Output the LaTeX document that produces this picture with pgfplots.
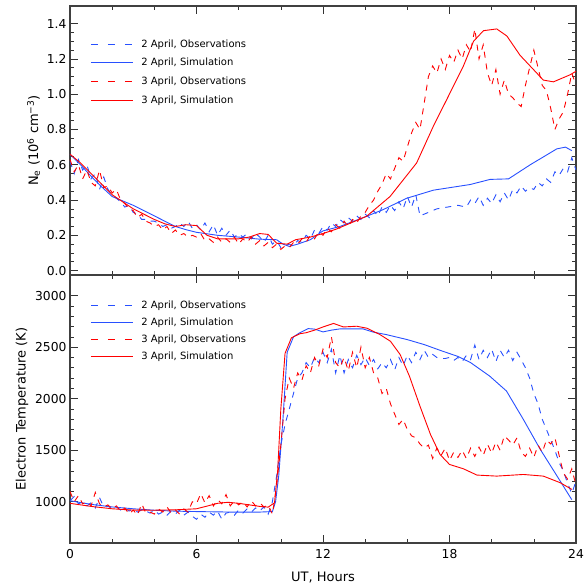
\documentclass[border=0pt]{standalone}
\usepackage{pgfplots}
\pgfplotsset{compat=1.18}
\usepackage{fontspec}
\setmainfont{DejaVu Sans}
\definecolor{obsblue}{RGB}{40,80,255}
\definecolor{obsred}{RGB}{255,0,0}

\tikzset{
  obsline/.style={line width=0.9pt, dash pattern=on 6pt off 6pt},
  simline/.style={line width=0.9pt},
}
\pgfplotsset{
  panel/.style={
    scale only axis, width=506pt, xmin=0, xmax=24,
    xtick={0,6,12,18,24}, minor x tick num=2,
    tick align=inside, major tick length=8pt, minor tick length=4pt,
    axis line style={line width=1.1pt, black!75},
    every tick/.style={black!80, line width=0.6pt},
    tick label style={font=\fontsize{12.3}{14}\selectfont},
    xticklabel style={yshift=-3pt},
    label style={font=\fontsize{13}{15}\selectfont},
    /pgf/number format/assume math mode=true,
    /pgf/number format/1000 sep={},
    legend cell align=left,
    legend style={draw=none, fill=none, inner sep=0pt, row sep=5.5pt,
      font=\fontsize{10}{12}\selectfont,
      /tikz/every odd column/.append style={column sep=6pt}},
  },
  blueobsleg/.style={legend image code/.code={\draw[obsblue, line width=0.9pt, solid]
      (0pt,0pt) -- (7pt,0pt) (17pt,0pt) -- (24pt,0pt) (34pt,0pt) -- (41pt,0pt);}},
  redobsleg/.style={legend image code/.code={\draw[obsred, line width=0.9pt, solid]
      (0pt,0pt) -- (7pt,0pt) (17pt,0pt) -- (24pt,0pt) (34pt,0pt) -- (41pt,0pt);}},
}

\begin{document}
\begin{tikzpicture}
\begin{axis}[panel, name=top, at={(0,0)}, anchor=south west, height=269pt,
  ymin=-0.025, ymax=1.5, ytick={0,0.2,...,1.4}, minor y tick num=3,
  yticklabel style={/pgf/number format/fixed, /pgf/number format/fixed zerofill, /pgf/number format/precision=1},
  xticklabels={},
  ylabel={N\textsubscript{e} (10\textsuperscript{6} cm\textsuperscript{−3})},
  legend image code/.code={\draw[#1] (0pt,0pt) -- (42pt,0pt);},
  legend style={at={(axis description cs:0.04,0.883)}, anchor=north west},
]
\addplot[obsline, obsblue, blueobsleg] coordinates {
(0.0,0.62) (0.2,0.55) (0.4,0.63) (0.6,0.57) (0.8,0.60) (1.0,0.52) (1.2,0.55) (1.4,0.46)
(1.6,0.53) (1.8,0.46) (2.0,0.43) (2.2,0.41) (2.4,0.39) (2.6,0.36) (2.8,0.37) (3.0,0.33)
(3.2,0.32) (3.4,0.29) (3.6,0.29) (3.8,0.28) (4.0,0.28) (4.2,0.27) (4.4,0.25) (4.6,0.26)
(4.8,0.24) (5.0,0.25) (5.2,0.27) (5.4,0.25) (5.6,0.28) (5.8,0.24) (6.0,0.26) (6.2,0.23)
(6.4,0.27) (6.6,0.22) (6.8,0.26) (7.0,0.20) (7.2,0.24) (7.4,0.20) (7.6,0.23) (7.8,0.19)
(8.0,0.21) (8.2,0.19) (8.4,0.21) (8.6,0.18) (8.8,0.21) (9.0,0.19) (9.2,0.16) (9.4,0.20)
(9.6,0.15) (9.8,0.17) (10.0,0.13) (10.2,0.14) (10.4,0.15) (10.6,0.14) (10.8,0.17) (11.0,0.16)
(11.2,0.20) (11.4,0.18) (11.6,0.23) (11.8,0.21) (12.0,0.25) (12.2,0.23) (12.4,0.27) (12.6,0.25)
(12.8,0.29) (13.0,0.27) (13.2,0.30) (13.4,0.28) (13.6,0.31) (13.8,0.29) (14.0,0.32) (14.2,0.30)
(14.4,0.34) (14.6,0.31) (14.8,0.36) (15.0,0.33) (15.2,0.37) (15.4,0.34) (15.6,0.39) (15.8,0.35)
(16.0,0.42) (16.2,0.36) (16.4,0.43) (16.6,0.31) (17.4,0.35) (18.4,0.37) (18.8,0.36) (19.0,0.40)
(19.2,0.38) (19.4,0.42) (19.6,0.37) (19.8,0.41) (20.0,0.38) (20.2,0.43) (20.4,0.39) (20.6,0.44)
(20.8,0.40) (21.0,0.46) (21.2,0.44) (21.4,0.48) (21.6,0.45) (21.8,0.47) (22.0,0.46) (22.2,0.50)
(22.4,0.48) (22.6,0.52) (22.8,0.50) (23.0,0.56) (23.2,0.54) (23.4,0.58) (23.6,0.56) (23.8,0.64)
(24.0,0.57)
};
\addlegendentry{2 April, Observations}
\addplot[simline, obsblue] coordinates {
(0,0.66) (0.5,0.60) (1,0.535) (1.5,0.475) (2,0.42) (2.5,0.395) (3,0.37) (3.5,0.34) (4,0.31)
(4.5,0.28) (5,0.25) (5.5,0.232) (6,0.217) (7,0.20) (8,0.19) (9,0.178) (9.8,0.175) (10.1,0.15)
(10.4,0.137) (10.8,0.15) (11.4,0.175) (12.0,0.225) (12.8,0.25) (14.07,0.308) (14.86,0.346)
(15.97,0.41) (17.24,0.456) (18.98,0.488) (19.93,0.517) (20.8,0.52) (21.83,0.60) (23.09,0.69)
(23.5,0.70) (23.8,0.68)
};
\addlegendentry{2 April, Simulation}
\addplot[obsline, obsred, redobsleg] coordinates {
(0.0,0.63) (0.2,0.56) (0.4,0.60) (0.6,0.52) (0.8,0.57) (1.0,0.50) (1.2,0.48) (1.4,0.57)
(1.6,0.47) (1.8,0.48) (2.0,0.44) (2.2,0.46) (2.4,0.40) (2.6,0.38) (2.8,0.35) (3.0,0.34)
(3.2,0.30) (3.4,0.32) (3.6,0.28) (3.8,0.27) (4.0,0.25) (4.2,0.26) (4.4,0.23) (4.6,0.25)
(4.8,0.21) (5.0,0.23) (5.2,0.20) (5.4,0.21) (5.6,0.19) (5.8,0.20) (6.0,0.19) (6.2,0.21)
(6.4,0.17) (6.6,0.18) (6.8,0.16) (7.0,0.19) (7.2,0.16) (7.4,0.18) (7.6,0.16) (7.8,0.19)
(8.0,0.15) (8.2,0.18) (8.4,0.16) (8.6,0.19) (8.8,0.15) (9.0,0.17) (9.2,0.14) (9.4,0.16)
(9.6,0.13) (9.8,0.15) (10.0,0.12) (10.2,0.14) (10.4,0.13) (10.6,0.16) (10.8,0.15) (11.0,0.18)
(11.2,0.16) (11.4,0.20) (11.6,0.18) (11.8,0.22) (12.0,0.20) (12.2,0.24) (12.4,0.22) (12.6,0.26)
(12.8,0.24) (13.0,0.28) (13.2,0.25) (13.4,0.29) (13.6,0.27) (13.8,0.31) (14.0,0.33) (14.2,0.37)
(14.4,0.40) (14.6,0.45) (14.8,0.49) (15.0,0.55) (15.2,0.52) (15.4,0.58) (15.6,0.64) (15.8,0.62)
(16.0,0.70) (16.2,0.78) (16.4,0.84) (16.6,0.80) (16.8,0.95) (17.0,1.10) (17.2,1.16) (17.4,1.12)
(17.6,1.20) (17.8,1.14) (18.0,1.22) (18.2,1.18) (18.4,1.25) (18.6,1.20) (18.8,1.28) (19.0,1.24)
(19.2,1.37) (19.4,1.20) (19.6,1.28) (19.8,1.12) (20.0,1.05) (20.2,1.14) (20.4,1.00) (20.6,1.08)
(20.8,1.00) (21.0,0.98) (21.2,0.95) (21.4,0.93) (21.6,1.05) (21.8,1.15) (22.0,1.25) (22.2,1.15)
(22.4,1.05) (22.6,1.02) (22.8,0.92) (23.0,0.80) (23.2,0.86) (23.4,0.90) (23.6,1.00) (23.8,1.12)
(24.0,1.05)
};
\addlegendentry{3 April, Observations}
\addplot[simline, obsred] coordinates {
(0,0.66) (0.5,0.61) (1,0.55) (1.5,0.49) (2,0.43) (2.5,0.39) (3,0.35) (3.5,0.32) (4,0.29)
(4.5,0.265) (5,0.25) (5.5,0.26) (6,0.255) (6.5,0.20) (7,0.18) (8,0.18) (8.5,0.19) (9,0.21)
(9.4,0.205) (9.8,0.155) (10.3,0.15) (10.7,0.175) (11.4,0.19) (12.0,0.21) (12.65,0.236)
(14.07,0.308) (15.18,0.42) (16.44,0.61) (17.24,0.82) (17.87,0.97) (18.66,1.16) (19.14,1.30)
(19.61,1.36) (20.24,1.37) (20.72,1.33) (21.35,1.22) (21.98,1.14) (22.45,1.08) (22.93,1.07)
(23.72,1.11) (24,1.13)
};
\addlegendentry{3 April, Simulation}
\coordinate (tl) at (rel axis cs:0,1);
\end{axis}

\begin{axis}[panel, name=bot, at={(top.south west)}, anchor=north west, height=268pt,
  ymin=600, ymax=3200, ytick={1000,1500,...,3000}, minor y tick num=4,
  xlabel={UT, Hours}, ylabel={Electron Temperature (K)},
  xlabel style={yshift=-6pt},
  legend image code/.code={\draw[#1] (0pt,0pt) -- (42pt,0pt);},
  legend style={at={(axis description cs:0.04,0.912)}, anchor=north west, row sep=3.8pt},
]
\addplot[obsline, obsblue, blueobsleg] coordinates {
(0.0,1010) (0.2,1050) (0.4,980) (0.6,1000) (0.8,960) (1.0,990) (1.2,940) (1.4,1040)
(1.6,950) (1.8,960) (2.0,930) (2.2,950) (2.4,920) (2.6,940) (2.8,910) (3.0,930)
(3.2,900) (3.4,920) (3.6,910) (3.8,890) (4.0,920) (4.2,880) (4.4,900) (4.6,870)
(4.8,910) (5.0,880) (5.2,920) (5.4,870) (5.6,900) (5.8,860) (6.0,830) (6.2,880)
(6.4,850) (6.6,900) (6.8,870) (7.0,910) (7.2,830) (7.4,890) (7.6,900) (7.8,870)
(8.0,920) (8.2,890) (8.4,930) (8.6,900) (8.8,940) (9.0,910) (9.2,950) (9.4,880)
(9.6,1000) (9.8,1250) (10.0,1550) (10.2,1750) (10.4,1900) (10.6,2050) (10.8,2200) (11.0,2250)
(11.2,2350) (11.4,2300) (11.6,2400) (11.8,2350) (12.0,2450) (12.2,2350) (12.4,2480) (12.6,2250)
(12.8,2420) (13.0,2250) (13.2,2380) (13.4,2300) (13.6,2420) (13.8,2330) (14.0,2400) (14.2,2320)
(14.4,2380) (14.6,2290) (14.8,2350) (15.0,2300) (15.2,2380) (15.4,2280) (15.6,2400) (15.8,2320)
(16.0,2420) (16.2,2350) (16.4,2450) (16.6,2380) (16.8,2470) (17.0,2400) (17.2,2430) (17.4,2400)
(17.6,2390) (17.8,2390) (18.0,2400) (18.2,2370) (18.4,2400) (18.6,2360) (18.8,2420) (19.0,2380)
(19.2,2520) (19.4,2380) (19.6,2470) (19.8,2400) (20.0,2480) (20.2,2360) (20.4,2470) (20.6,2400)
(20.8,2470) (21.0,2370) (21.2,2450) (21.4,2380) (21.6,2300) (21.8,2200) (22.0,2050) (22.2,1950)
(22.4,1800) (22.6,1700) (22.8,1600) (23.0,1500) (23.2,1380) (23.4,1300) (23.6,1180) (23.8,1080)
(24.0,1200)
};
\addlegendentry{2 April, Observations}
\addplot[simline, obsblue] coordinates {
(0,1010) (1,975) (2,950) (3,932) (4,918) (5,909) (6,905) (7,902) (8,899) (9,900) (9.6,905)
(9.75,1000) (9.9,1250) (10.1,1800) (10.3,2450) (10.6,2600) (10.9,2640) (11.3,2680) (11.6,2675)
(12.0,2648) (12.4,2665) (12.8,2677) (13.9,2677) (14.4,2645) (15.0,2622) (16.0,2573) (16.8,2525)
(17.6,2466) (18.4,2410) (19.0,2350) (19.9,2220) (20.7,2075) (21.5,1800) (22.3,1510) (23.1,1250)
(23.8,1020)
};
\addlegendentry{2 April, Simulation}
\addplot[obsline, obsred, redobsleg] coordinates {
(0.0,1100) (0.2,1000) (0.4,1060) (0.6,980) (0.8,1000) (1.0,960) (1.2,1090) (1.4,980)
(1.6,950) (1.8,970) (2.0,930) (2.2,960) (2.4,910) (2.6,940) (2.8,880) (3.0,920)
(3.2,870) (3.4,980) (3.6,890) (3.8,900) (4.0,880) (4.2,930) (4.4,900) (4.6,950)
(4.8,890) (5.0,920) (5.2,880) (5.4,930) (5.6,900) (5.8,1000) (6.0,980) (6.2,1080)
(6.4,990) (6.6,1060) (6.8,960) (7.0,1020) (7.2,980) (7.4,1070) (7.6,960) (7.8,1010)
(8.0,970) (8.2,1000) (8.4,950) (8.6,1010) (8.8,960) (9.0,990) (9.2,950) (9.4,970)
(9.6,880) (9.8,1150) (10.0,1550) (10.2,2000) (10.4,2200) (10.6,2100) (10.8,2250) (11.0,2180)
(11.2,2320) (11.4,2250) (11.6,2400) (11.8,2320) (12.0,2480) (12.2,2400) (12.4,2600) (12.6,2350)
(12.8,2300) (13.0,2400) (13.2,2270) (13.4,2450) (13.6,2300) (13.8,2500) (14.0,2300) (14.2,2400)
(14.4,2250) (14.6,2200) (14.8,2050) (15.0,2100) (15.2,1950) (15.4,1850) (15.6,1750) (15.8,1800)
(16.0,1700) (16.2,1640) (16.4,1620) (16.6,1560) (16.8,1520) (17.0,1550) (17.2,1420) (17.4,1520)
(17.6,1450) (17.8,1520) (18.0,1400) (18.2,1480) (18.4,1430) (18.6,1500) (18.8,1420) (19.0,1520)
(19.2,1440) (19.4,1530) (19.6,1450) (19.8,1560) (20.0,1470) (20.2,1580) (20.4,1500) (20.6,1640)
(20.8,1600) (21.0,1550) (21.2,1620) (21.4,1480) (21.6,1440) (21.8,1520) (22.0,1430) (22.2,1550)
(22.4,1480) (22.6,1600) (22.8,1560) (23.0,1620) (23.2,1450) (23.4,1280) (23.6,1220) (23.8,1320)
(24.0,1160)
};
\addlegendentry{3 April, Observations}
\addplot[simline, obsred] coordinates {
(0,985) (1,955) (2,932) (3,919) (4,918) (5,922) (6,932) (6.5,958) (7,985) (7.5,995) (8,985)
(8.5,970) (9,955) (9.4,948) (9.7,990) (9.85,1300) (10.0,1900) (10.2,2440) (10.5,2590) (10.9,2630)
(11.2,2640) (11.6,2665) (12.0,2696) (12.5,2730) (12.97,2696) (13.6,2703) (14.1,2683) (14.7,2622)
(15.2,2557) (15.66,2428) (16.1,2218) (16.6,1927) (17.1,1652) (17.55,1459) (18.0,1362) (18.66,1320)
(19.3,1259) (20.24,1249) (21.5,1265) (22.45,1249) (23.25,1185) (23.8,1120)
};
\addlegendentry{3 April, Simulation}
\coordinate (br) at (rel axis cs:1,0);
\end{axis}
\pgfresetboundingbox
\path ([shift={(-70pt,6pt)}]tl) rectangle ([shift={(8pt,-45pt)}]br);
\end{tikzpicture}
\end{document}
